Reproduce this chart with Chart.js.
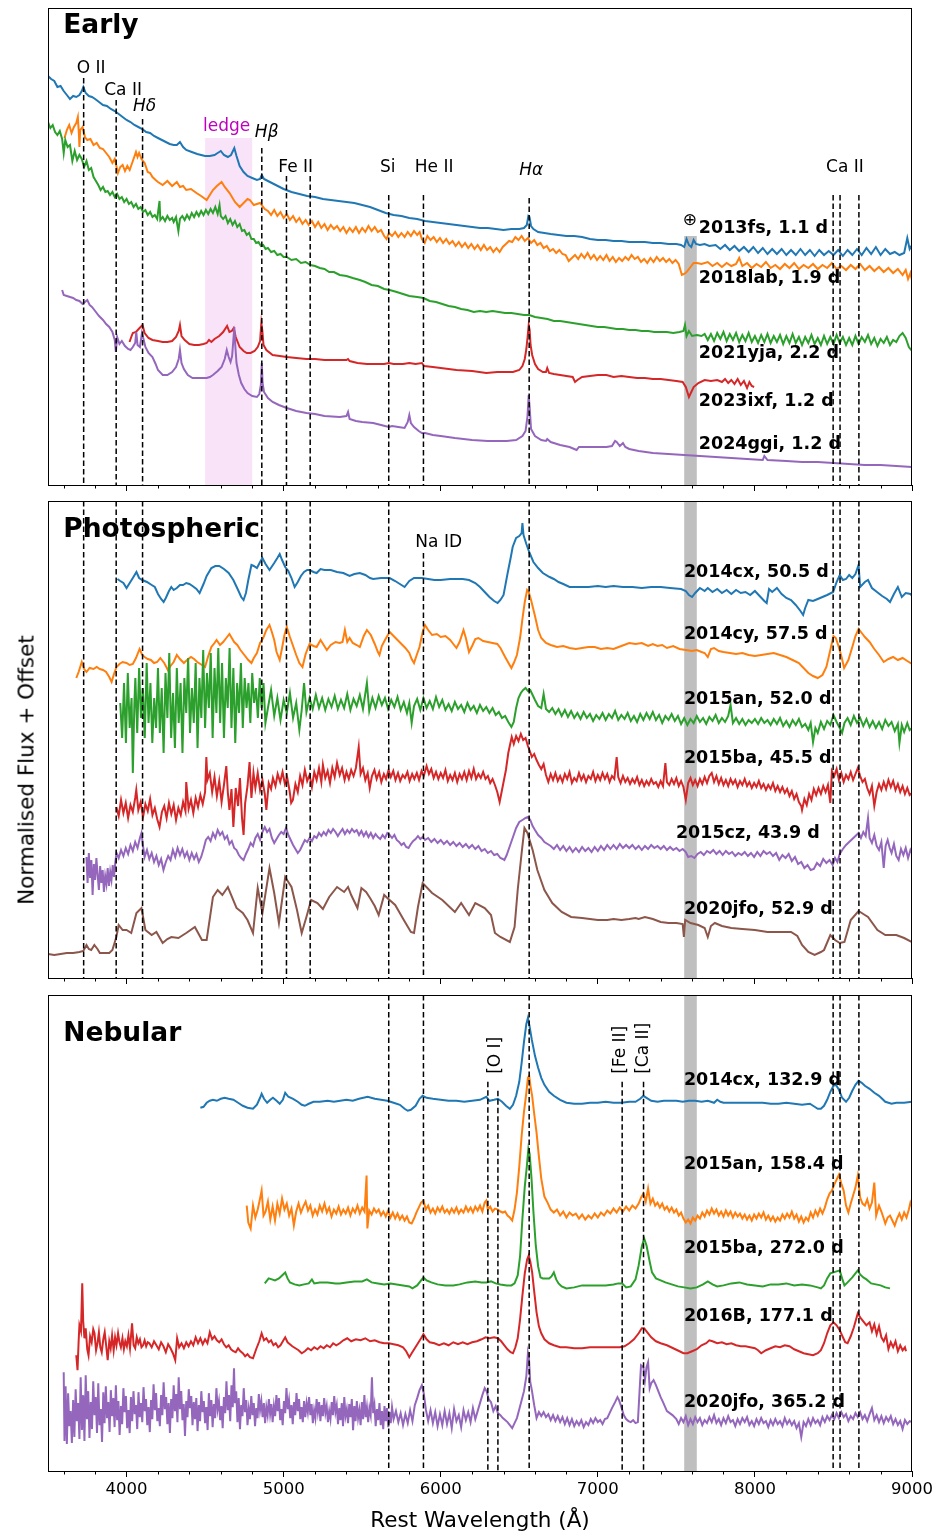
<!DOCTYPE html>
<html>
<head>
<meta charset="utf-8">
<script src="https://cdn.jsdelivr.net/npm/chart.js@4.4.1/dist/chart.umd.min.js"></script>
<style>
  body { margin: 0; background: #fff; }
  #fig { position: relative; width: 940px; height: 1535px; background: #fff; overflow: hidden; }
  #fig canvas { position: absolute; left: 0; }
  #ylab { position: absolute; left: 26px; top: 770px; transform: translate(-50%, -50%) rotate(-90deg);
          font: 21.5px "DejaVu Sans"; color: #000; white-space: nowrap; }
</style>
</head>
<body>
<div id="fig">
  <canvas id="early" width="940" height="500" style="top:0px"></canvas>
  <canvas id="photo" width="940" height="490" style="top:500px"></canvas>
  <canvas id="neb" width="940" height="545" style="top:990px"></canvas>
  <div id="ylab">Normalised Flux + Offset</div>
</div>
<script>
// ---------- axis ----------
const waveMin = 3500, waveMax = 9000;
const majorTicks = [4000, 5000, 6000, 7000, 8000, 9000];
const fluxMax = 47.7;

// ---------- Early spectra: [rest wavelength (Å), normalised flux + offset] ----------
const early2013fs = [[3500,40.9],[3520,40.6],[3540,40.4],[3560,39.8],[3580,39.9],[3600,39.4],[3620,39.0],[3640,38.6],[3660,38.9],[3680,38.8],[3700,39.0],[3715,39.4],[3725,39.8],[3740,39.2],[3760,38.9],[3780,38.8],[3800,38.6],[3825,38.3],[3850,38.0],[3875,37.9],[3900,37.6],[3925,37.4],[3950,37.1],[3975,36.8],[4000,36.5],[4025,36.3],[4050,36.0],[4075,35.8],[4100,35.6],[4125,35.3],[4150,35.2],[4175,34.9],[4200,34.7],[4225,34.5],[4250,34.3],[4275,34.1],[4300,34.0],[4320,34.0],[4340,34.3],[4360,33.8],[4380,33.5],[4415,33.3],[4450,33.1],[4475,33.0],[4500,32.9],[4530,32.9],[4560,33.0],[4580,33.2],[4600,33.4],[4620,33.0],[4645,32.8],[4665,33.0],[4686,33.7],[4700,32.9],[4720,31.9],[4745,31.3],[4770,30.9],[4800,30.7],[4830,30.5],[4850,30.6],[4861,31.0],[4875,30.6],[4900,30.4],[4950,30.0],[5000,29.6],[5050,29.3],[5100,29.1],[5150,28.9],[5200,28.8],[5250,28.6],[5300,28.5],[5350,28.4],[5400,28.3],[5450,28.2],[5500,28.0],[5550,27.8],[5600,27.5],[5650,27.2],[5700,27.0],[5750,26.9],[5800,26.7],[5850,26.6],[5900,26.4],[5950,26.3],[6000,26.2],[6050,26.1],[6100,26.0],[6150,25.9],[6200,25.8],[6250,25.7],[6300,25.7],[6350,25.6],[6400,25.5],[6450,25.6],[6500,25.6],[6530,25.7],[6548,26.0],[6558,26.9],[6565,26.8],[6575,25.9],[6590,25.6],[6620,25.3],[6660,25.2],[6700,25.1],[6750,25.0],[6800,24.9],[6850,24.9],[6900,24.8],[6950,24.6],[7000,24.5],[7050,24.5],[7100,24.4],[7150,24.4],[7200,24.3],[7250,24.3],[7300,24.3],[7350,24.2],[7400,24.2],[7450,24.1],[7500,24.1],[7530,24.0],[7550,23.8],[7565,24.6],[7580,24.0],[7595,23.8],[7610,24.5],[7625,24.1],[7650,24.0],[7680,24.1],[7710,23.9],[7750,24.0],[7780,23.6],[7810,24.0],[7840,23.5],[7870,23.9],[7900,23.4],[7930,23.8],[7960,23.3],[7990,23.8],[8020,23.2],[8050,23.7],[8080,23.1],[8110,23.6],[8140,23.1],[8170,23.6],[8200,23.0],[8230,23.5],[8260,23.0],[8290,23.6],[8320,23.0],[8350,23.5],[8380,22.9],[8410,23.5],[8440,23.0],[8470,23.4],[8500,23.0],[8530,23.5],[8560,22.9],[8590,23.5],[8620,23.0],[8650,23.6],[8680,23.0],[8710,23.7],[8740,23.1],[8770,23.8],[8800,23.0],[8830,23.6],[8860,23.1],[8890,23.3],[8920,23.0],[8950,23.2],[8970,24.7],[8985,23.6],[9000,24.0]];

const early2018lab = [[3605,34.7],[3620,35.5],[3635,36.0],[3650,35.2],[3665,35.8],[3680,36.2],[3690,36.8],[3697,35.0],[3700,33.8],[3705,35.5],[3720,35.8],[3735,34.8],[3750,34.5],[3770,34.6],[3790,34.0],[3810,34.2],[3830,33.7],[3850,33.6],[3870,33.2],[3890,32.8],[3910,32.2],[3925,32.6],[3945,31.2],[3960,31.8],[3975,32.0],[3990,31.4],[4005,31.9],[4020,31.5],[4040,32.4],[4060,33.3],[4070,32.8],[4080,33.2],[4095,32.6],[4115,32.2],[4135,31.3],[4150,31.2],[4165,30.8],[4185,30.5],[4200,30.3],[4230,30.0],[4260,30.4],[4290,29.9],[4320,30.3],[4340,29.8],[4360,29.9],[4380,29.5],[4410,29.6],[4445,29.2],[4475,28.9],[4510,28.5],[4530,29.0],[4550,29.5],[4575,29.9],[4605,30.3],[4625,29.8],[4656,29.2],[4690,28.3],[4720,27.8],[4745,28.2],[4770,28.6],[4785,28.5],[4810,28.0],[4850,28.2],[4880,27.6],[4900,27.4],[4920,27.0],[4940,27.5],[4960,26.9],[4980,27.3],[5000,26.7],[5020,27.1],[5040,26.5],[5060,26.9],[5080,26.3],[5100,26.7],[5120,26.1],[5140,26.5],[5160,26.0],[5180,26.4],[5200,25.8],[5220,26.3],[5240,25.7],[5260,26.1],[5280,25.5],[5300,26.0],[5320,25.6],[5340,25.9],[5360,25.4],[5380,25.8],[5400,25.2],[5420,25.7],[5440,25.3],[5460,25.8],[5480,25.2],[5500,25.7],[5520,25.3],[5540,25.9],[5560,25.4],[5580,25.8],[5600,25.3],[5620,25.5],[5640,24.9],[5655,24.6],[5670,25.2],[5690,24.9],[5710,25.3],[5730,24.8],[5750,25.2],[5770,24.8],[5790,25.3],[5810,24.9],[5830,25.4],[5850,25.0],[5866,25.3],[5880,24.6],[5898,24.2],[5915,24.9],[5935,24.5],[5955,24.8],[5975,24.3],[5995,24.7],[6015,24.2],[6035,24.6],[6055,24.1],[6075,24.4],[6095,23.9],[6115,24.3],[6135,23.8],[6155,24.2],[6175,23.7],[6195,24.1],[6215,23.6],[6235,24.0],[6255,23.5],[6275,24.0],[6295,23.5],[6315,23.8],[6335,23.3],[6355,23.7],[6375,23.3],[6395,23.8],[6415,24.1],[6435,24.4],[6455,24.3],[6475,24.8],[6495,24.5],[6515,24.9],[6535,24.4],[6555,24.7],[6575,24.2],[6595,24.5],[6615,24.0],[6635,24.2],[6655,23.7],[6675,23.9],[6695,23.4],[6715,23.6],[6735,23.2],[6755,23.5],[6775,23.1],[6795,23.0],[6815,22.4],[6835,22.7],[6855,23.0],[6875,22.6],[6895,23.1],[6915,22.7],[6935,23.2],[6955,22.6],[6975,23.0],[6995,22.5],[7015,22.9],[7035,22.5],[7055,23.0],[7075,22.4],[7095,22.8],[7115,22.3],[7135,22.7],[7155,22.4],[7175,22.8],[7195,22.5],[7215,23.0],[7235,22.6],[7255,22.8],[7275,22.3],[7295,22.6],[7315,22.2],[7335,22.7],[7355,22.3],[7375,22.8],[7395,22.4],[7415,22.7],[7435,22.3],[7455,22.6],[7475,22.2],[7495,22.5],[7515,22.1],[7535,21.0],[7550,21.1],[7565,21.3],[7590,21.8],[7610,22.2],[7630,22.2],[7660,22.1],[7700,22.3],[7730,21.9],[7760,22.2],[7790,21.8],[7820,22.2],[7850,21.9],[7880,22.1],[7900,22.7],[7920,21.9],[7950,22.2],[7980,21.7],[8010,22.1],[8040,21.8],[8070,22.3],[8100,21.7],[8130,22.0],[8160,21.6],[8190,22.1],[8220,21.7],[8250,22.2],[8280,21.6],[8310,22.0],[8340,21.7],[8370,22.1],[8400,21.6],[8430,22.0],[8460,21.7],[8490,22.2],[8520,21.6],[8550,21.9],[8580,21.5],[8610,22.0],[8640,21.6],[8670,22.1],[8700,21.5],[8730,21.9],[8760,21.4],[8790,21.8],[8820,21.3],[8850,21.7],[8880,21.2],[8910,21.6],[8940,21.0],[8960,21.5],[8975,20.6],[8990,21.2],[9000,20.5]];

const early2021yja = [[3500,36.3],[3515,35.7],[3530,36.0],[3545,35.3],[3560,35.0],[3575,35.4],[3590,34.6],[3600,33.2],[3610,34.5],[3625,33.8],[3640,34.0],[3655,32.4],[3670,33.4],[3685,32.5],[3700,33.0],[3715,32.6],[3730,31.8],[3745,32.4],[3760,31.5],[3775,31.7],[3790,30.8],[3805,30.4],[3820,30.0],[3835,29.5],[3850,29.8],[3865,29.3],[3880,29.4],[3895,29.0],[3910,29.3],[3925,28.8],[3940,29.1],[3955,28.6],[3970,28.8],[3985,28.3],[4000,28.6],[4015,28.1],[4030,28.3],[4045,27.8],[4060,28.1],[4075,27.6],[4090,27.8],[4105,27.3],[4120,27.5],[4135,27.0],[4150,27.3],[4165,26.8],[4180,27.0],[4195,26.6],[4210,28.4],[4215,26.5],[4230,26.8],[4245,26.4],[4260,26.9],[4275,26.5],[4290,26.7],[4300,26.3],[4315,26.8],[4330,25.4],[4340,26.6],[4355,26.9],[4370,26.5],[4385,27.0],[4400,26.6],[4415,27.2],[4430,26.8],[4445,27.3],[4460,26.9],[4475,27.4],[4490,27.0],[4505,27.5],[4520,27.1],[4535,27.6],[4550,27.2],[4565,27.8],[4580,27.1],[4592,28.0],[4600,26.9],[4615,26.6],[4630,26.9],[4645,26.2],[4660,26.6],[4675,26.0],[4690,26.4],[4705,25.8],[4720,26.1],[4735,25.4],[4750,25.5],[4765,25.0],[4780,25.2],[4795,24.6],[4810,24.6],[4825,24.2],[4840,24.3],[4855,23.9],[4870,24.0],[4885,23.6],[4900,23.7],[4920,23.3],[4940,23.4],[4960,23.0],[4980,23.1],[5000,22.8],[5020,22.8],[5050,22.5],[5080,22.6],[5110,22.2],[5140,22.3],[5170,22.0],[5200,21.9],[5230,21.7],[5260,21.6],[5290,21.3],[5320,21.3],[5357,21.0],[5400,20.9],[5440,20.7],[5485,20.5],[5520,20.3],[5560,20.0],[5600,19.9],[5640,19.6],[5675,19.5],[5720,19.3],[5760,19.1],[5800,18.9],[5850,18.8],[5890,18.7],[5930,18.4],[5970,18.3],[6010,18.1],[6050,17.9],[6090,17.8],[6130,17.6],[6170,17.5],[6210,17.3],[6250,17.4],[6290,17.3],[6330,17.4],[6370,17.3],[6410,17.2],[6450,17.2],[6490,17.1],[6530,17.0],[6563,17.0],[6600,16.8],[6640,16.7],[6680,16.6],[6720,16.4],[6760,16.4],[6800,16.3],[6840,16.2],[6880,16.1],[6920,16.0],[6960,15.9],[7000,15.8],[7040,15.8],[7080,15.7],[7120,15.6],[7160,15.6],[7200,15.5],[7240,15.5],[7280,15.4],[7320,15.4],[7360,15.3],[7400,15.3],[7440,15.3],[7480,15.2],[7520,15.3],[7545,15.4],[7555,16.0],[7565,14.9],[7580,15.4],[7600,14.9],[7630,15.0],[7660,14.9],[7680,15.1],[7700,14.5],[7720,15.1],[7740,14.4],[7760,15.2],[7780,14.6],[7800,15.3],[7820,14.4],[7840,15.1],[7860,14.5],[7880,15.2],[7900,14.3],[7920,15.0],[7940,14.4],[7960,15.2],[7980,14.3],[8000,14.9],[8020,14.2],[8040,15.0],[8060,14.3],[8080,15.1],[8100,14.2],[8120,14.9],[8140,14.3],[8160,15.0],[8180,14.1],[8200,14.9],[8220,14.2],[8240,15.1],[8260,14.2],[8280,14.8],[8300,14.0],[8320,14.8],[8340,14.2],[8360,15.0],[8380,14.1],[8400,14.7],[8420,14.0],[8440,14.9],[8460,14.1],[8480,14.8],[8500,14.1],[8520,15.0],[8540,14.2],[8560,14.8],[8580,14.0],[8600,14.7],[8620,14.0],[8640,14.9],[8660,14.1],[8680,14.8],[8700,14.3],[8720,15.0],[8740,14.1],[8760,14.7],[8780,13.9],[8800,14.6],[8820,14.2],[8840,14.8],[8860,14.0],[8880,14.5],[8900,14.3],[8920,14.9],[8940,15.2],[8960,14.7],[8980,13.8],[9000,13.4]];

const early2023ixf = [[4019,14.3],[4030,14.8],[4040,15.2],[4060,15.3],[4083,15.7],[4102,16.0],[4115,15.2],[4140,14.7],[4165,14.5],[4200,14.4],[4230,14.3],[4260,14.3],[4290,14.4],[4315,14.8],[4332,15.4],[4340,16.0],[4350,14.9],[4370,14.5],[4400,14.1],[4430,14.0],[4460,14.0],[4490,14.1],[4510,14.2],[4525,14.5],[4540,14.3],[4560,14.6],[4590,14.9],[4615,15.3],[4640,15.9],[4655,15.3],[4670,15.4],[4682,15.7],[4695,14.8],[4720,13.8],[4745,13.4],[4765,13.2],[4790,13.2],[4815,13.4],[4835,13.8],[4850,14.4],[4858,16.2],[4864,15.5],[4872,14.0],[4890,13.5],[4930,13.0],[4975,12.9],[5020,12.8],[5080,12.7],[5145,12.6],[5200,12.6],[5260,12.5],[5357,12.5],[5400,12.5],[5410,12.6],[5420,12.4],[5470,12.2],[5530,12.1],[5580,12.1],[5640,12.1],[5670,12.2],[5700,12.1],[5760,12.1],[5800,12.2],[5840,12.1],[5880,12.2],[5895,11.9],[5950,11.8],[6000,11.7],[6100,11.5],[6200,11.4],[6290,11.2],[6360,11.3],[6420,11.3],[6460,11.3],[6500,11.5],[6520,11.9],[6535,12.6],[6545,13.6],[6553,14.8],[6560,16.0],[6566,15.5],[6572,14.0],[6582,13.0],[6600,12.1],[6620,11.6],[6650,11.3],[6670,11.3],[6678,11.7],[6690,11.2],[6720,11.1],[6760,11.0],[6800,10.9],[6840,10.8],[6855,10.3],[6870,10.5],[6900,10.8],[6950,10.9],[7000,11.0],[7055,11.0],[7100,10.8],[7150,10.9],[7200,10.8],[7250,10.7],[7300,10.7],[7350,10.6],[7400,10.6],[7450,10.5],[7500,10.4],[7540,10.3],[7560,9.8],[7580,8.8],[7595,9.3],[7610,9.8],[7640,10.2],[7680,10.5],[7720,10.4],[7760,10.5],[7790,10.3],[7810,10.6],[7830,10.2],[7850,10.5],[7870,10.1],[7890,10.6],[7910,10.0],[7930,10.4],[7950,9.7],[7965,10.3],[7980,9.9],[7995,9.8]];

const early2024ggi = [[3590,19.5],[3600,19.0],[3620,18.9],[3640,18.8],[3660,18.7],[3680,18.5],[3700,18.4],[3720,18.1],[3735,18.3],[3750,18.5],[3765,18.0],[3780,17.8],[3800,17.4],[3825,16.9],[3850,16.5],[3870,16.1],[3890,15.8],[3910,15.3],[3925,14.5],[3932,13.3],[3940,14.8],[3955,14.1],[3970,14.4],[3990,13.9],[4010,13.6],[4025,13.5],[4040,13.8],[4055,14.2],[4062,15.3],[4070,14.0],[4085,13.8],[4098,15.2],[4108,14.6],[4120,13.8],[4140,13.2],[4165,12.8],[4185,12.1],[4200,11.5],[4230,11.0],[4260,11.0],[4290,11.3],[4315,11.8],[4332,12.6],[4340,13.5],[4350,12.2],[4365,11.6],[4390,11.0],[4420,10.7],[4450,10.7],[4480,10.7],[4510,10.7],[4530,10.8],[4550,11.0],[4580,11.4],[4605,11.8],[4625,12.6],[4638,13.5],[4650,12.8],[4662,12.3],[4672,12.9],[4680,14.5],[4686,15.8],[4692,14.0],[4700,12.2],[4715,11.0],[4730,10.2],[4750,9.6],[4770,9.2],[4800,8.9],[4830,8.8],[4845,9.1],[4855,10.0],[4861,12.2],[4866,10.2],[4875,9.3],[4900,8.7],[4930,8.3],[4970,8.0],[5020,7.7],[5080,7.4],[5145,7.2],[5200,7.1],[5260,6.9],[5357,6.8],[5400,6.9],[5410,7.3],[5420,6.6],[5460,6.4],[5500,6.3],[5570,6.2],[5620,6.0],[5670,5.8],[5690,5.9],[5730,5.8],[5770,5.7],[5790,6.3],[5800,7.0],[5810,6.2],[5830,5.8],[5860,5.4],[5880,5.2],[5900,5.2],[5950,5.0],[6000,4.9],[6090,4.7],[6200,4.5],[6300,4.4],[6420,4.4],[6480,4.5],[6520,4.9],[6540,5.4],[6552,6.8],[6560,9.0],[6566,7.8],[6575,5.6],[6600,4.9],[6640,4.5],[6670,4.4],[6678,4.6],[6700,4.3],[6760,4.0],[6820,3.8],[6850,3.6],[6865,3.5],[6880,3.8],[6950,3.8],[7000,3.8],[7055,3.8],[7090,3.9],[7110,4.4],[7120,4.3],[7140,3.9],[7160,4.2],[7175,3.8],[7200,3.6],[7260,3.4],[7350,3.2],[7450,3.1],[7550,3.0],[7650,2.9],[7750,2.8],[7850,2.7],[7950,2.6],[8050,2.5],[8060,2.9],[8080,2.5],[8200,2.4],[8300,2.3],[8400,2.3],[8500,2.2],[8600,2.1],[8700,2.0],[8800,2.0],[8900,1.9],[9000,1.8]];

// ---------- Photospheric spectra ----------
const photo2014cx = [[3942,39.9],[3960,39.7],[3980,39.5],[4000,39.0],[4020,39.5],[4040,40.0],[4063,40.6],[4080,40.0],[4100,39.8],[4130,39.6],[4160,39.3],[4180,39.1],[4200,38.4],[4220,37.9],[4236,37.6],[4250,38.0],[4270,38.7],[4285,39.1],[4300,38.8],[4320,39.0],[4340,39.3],[4360,39.3],[4380,39.5],[4400,39.4],[4420,39.2],[4445,38.9],[4465,38.5],[4490,39.4],[4510,40.2],[4540,41.0],[4565,41.2],[4590,41.2],[4620,40.9],[4650,40.5],[4680,39.8],[4710,38.8],[4730,38.1],[4745,37.8],[4760,38.5],[4775,39.8],[4795,41.3],[4810,41.2],[4830,41.0],[4850,41.6],[4865,42.0],[4885,41.4],[4910,40.8],[4940,41.5],[4960,42.0],[4975,42.4],[4990,41.8],[5010,41.1],[5030,40.7],[5050,40.0],[5070,39.1],[5090,39.6],[5110,40.2],[5130,40.6],[5150,40.8],[5165,40.8],[5190,40.6],[5210,40.5],[5235,40.9],[5260,40.8],[5300,40.8],[5340,40.6],[5380,40.5],[5420,40.2],[5450,40.4],[5485,40.5],[5520,40.3],[5550,40.0],[5570,39.9],[5620,40.0],[5675,40.0],[5710,39.7],[5740,39.4],[5770,39.1],[5800,39.7],[5830,40.0],[5880,40.0],[5920,39.9],[5960,39.8],[6000,39.8],[6060,39.9],[6100,39.9],[6140,39.9],[6180,39.8],[6220,39.5],[6250,39.1],[6280,38.6],[6310,38.1],[6340,37.7],[6362,37.5],[6380,37.8],[6400,38.3],[6426,40.5],[6445,42.0],[6458,43.1],[6480,44.0],[6500,44.2],[6515,44.5],[6520,45.5],[6527,44.3],[6545,43.4],[6563,42.6],[6590,41.6],[6620,41.0],[6650,40.5],[6693,40.1],[6720,39.9],[6750,39.6],[6780,39.4],[6820,39.1],[6870,39.1],[6940,39.1],[7000,39.2],[7050,39.1],[7100,39.2],[7160,39.1],[7220,39.1],[7280,39.0],[7340,39.1],[7400,39.1],[7460,39.0],[7530,38.9],[7560,38.7],[7580,38.3],[7600,38.1],[7620,38.5],[7650,39.0],[7680,38.7],[7700,39.0],[7730,38.6],[7760,38.9],[7790,38.5],[7820,38.8],[7850,38.4],[7880,38.8],[7910,38.5],[7940,38.6],[7970,38.3],[8000,38.7],[8030,38.2],[8060,37.7],[8075,37.5],[8090,38.9],[8110,38.6],[8140,39.0],[8170,38.4],[8200,38.0],[8230,37.8],[8260,37.3],[8290,36.7],[8307,36.3],[8320,37.0],[8340,37.8],[8370,37.7],[8400,37.9],[8430,38.1],[8460,38.3],[8498,38.6],[8520,39.6],[8540,40.3],[8560,39.8],[8580,39.9],[8600,40.3],[8620,40.0],[8640,40.4],[8660,41.3],[8670,39.1],[8700,39.6],[8720,39.8],[8745,39.0],[8777,38.6],[8810,38.2],[8840,37.9],[8860,37.6],[8885,38.4],[8910,39.1],[8935,38.1],[8960,38.5],[8990,38.4],[9000,38.2]];

const photo2014cy = [[3680,30.0],[3695,30.6],[3715,31.6],[3730,30.9],[3745,30.6],[3765,31.0],[3790,30.9],[3810,31.1],[3830,30.9],[3850,30.8],[3870,30.6],[3890,30.1],[3905,29.6],[3920,30.4],[3936,31.1],[3955,31.4],[3975,31.6],[4000,31.5],[4020,31.3],[4040,31.4],[4060,32.0],[4083,32.9],[4100,32.3],[4115,32.1],[4135,31.9],[4155,31.8],[4175,31.5],[4195,31.6],[4215,32.0],[4240,31.5],[4263,30.8],[4280,31.2],[4300,31.6],[4320,32.3],[4340,31.9],[4365,31.5],[4385,31.8],[4410,32.1],[4430,31.9],[4450,31.6],[4480,31.3],[4500,31.1],[4520,32.2],[4540,33.1],[4560,33.5],[4573,33.8],[4595,33.3],[4615,33.6],[4635,34.0],[4655,34.4],[4670,34.0],[4685,33.6],[4705,33.3],[4725,32.8],[4750,32.3],[4775,31.8],[4795,31.5],[4810,32.0],[4830,32.5],[4850,33.5],[4870,34.0],[4890,34.8],[4910,35.3],[4925,34.6],[4940,33.8],[4955,32.6],[4975,31.8],[4990,33.0],[5005,34.3],[5020,35.1],[5040,34.1],[5060,33.2],[5080,32.3],[5100,31.5],[5120,31.1],[5140,32.4],[5165,33.4],[5190,33.2],[5210,33.1],[5235,33.8],[5255,33.3],[5275,32.8],[5300,33.3],[5330,33.6],[5357,33.5],[5375,33.6],[5390,34.8],[5405,33.6],[5420,34.0],[5440,33.5],[5465,33.3],[5485,33.1],[5510,34.2],[5530,34.8],[5555,34.3],[5580,33.4],[5600,32.6],[5610,32.3],[5625,33.2],[5645,33.8],[5675,34.6],[5700,34.2],[5725,33.8],[5750,33.4],[5775,33.0],[5800,32.5],[5815,31.9],[5830,31.5],[5845,32.2],[5865,33.1],[5885,34.6],[5900,35.3],[5920,34.8],[5945,34.3],[5975,34.4],[6000,34.1],[6030,34.2],[6060,33.8],[6080,33.4],[6100,33.0],[6120,33.6],[6145,34.8],[6160,34.0],[6180,32.6],[6200,33.2],[6220,33.9],[6240,34.0],[6270,33.7],[6300,33.6],[6330,33.5],[6360,33.4],[6380,33.0],[6410,32.1],[6435,31.4],[6450,31.0],[6465,31.5],[6485,32.3],[6505,34.0],[6520,35.9],[6535,37.6],[6550,38.8],[6560,38.6],[6575,37.8],[6600,36.2],[6620,34.8],[6640,34.0],[6670,33.5],[6700,33.3],[6740,33.1],[6780,33.2],[6820,33.0],[6860,32.9],[6900,33.0],[6940,33.1],[6980,33.1],[7020,32.9],[7060,33.0],[7100,32.9],[7150,33.2],[7200,33.5],[7240,33.4],[7280,33.5],[7320,33.2],[7350,33.4],[7380,33.2],[7410,33.3],[7440,33.0],[7480,33.2],[7520,32.9],[7560,32.8],[7600,32.7],[7630,32.8],[7660,32.6],[7680,32.5],[7700,32.1],[7720,32.9],[7740,33.0],[7770,32.7],[7800,32.6],[7840,32.5],[7880,32.4],[7920,32.5],[7960,32.3],[8000,32.2],[8040,32.3],[8080,32.4],[8120,32.5],[8160,32.3],[8200,32.1],[8240,31.8],[8280,31.5],[8310,31.0],[8340,30.5],[8370,30.2],[8400,30.0],[8430,30.3],[8455,31.1],[8480,32.8],[8500,34.2],[8515,34.0],[8530,33.3],[8550,32.2],[8568,31.0],[8595,31.8],[8620,33.1],[8640,34.2],[8660,34.9],[8680,34.5],[8700,34.1],[8730,33.6],[8760,32.9],[8790,32.3],[8820,31.6],[8850,31.9],[8880,32.1],[8910,31.8],[8940,32.0],[8970,31.7],[9000,31.4]];

const photo2015an = [[3960,27.5],[3972,24.0],[3984,29.5],[3996,23.5],[4008,30.5],[4020,25.0],[4032,28.0],[4040,20.5],[4050,27.5],[4056,30.0],[4068,24.5],[4080,31.0],[4092,26.0],[4104,29.0],[4116,24.0],[4128,31.5],[4140,25.5],[4152,29.5],[4164,23.5],[4176,28.0],[4188,25.0],[4200,31.0],[4212,24.5],[4224,29.0],[4236,22.5],[4248,30.5],[4260,26.0],[4272,32.5],[4284,24.0],[4296,28.5],[4308,23.0],[4320,31.0],[4332,25.5],[4344,29.5],[4356,22.5],[4368,30.0],[4380,26.5],[4392,32.0],[4404,24.5],[4416,29.0],[4428,25.5],[4440,31.5],[4452,23.0],[4464,30.0],[4476,26.0],[4488,32.8],[4500,25.0],[4512,30.5],[4524,27.0],[4536,32.5],[4548,24.0],[4560,31.0],[4572,26.5],[4584,33.0],[4596,25.5],[4608,31.5],[4620,24.0],[4632,30.0],[4644,27.0],[4656,33.0],[4668,25.0],[4680,31.0],[4692,23.5],[4704,29.5],[4716,26.5],[4728,31.5],[4740,25.0],[4752,30.0],[4764,27.0],[4776,29.5],[4788,25.5],[4800,30.5],[4812,27.5],[4824,29.0],[4836,26.0],[4848,30.0],[4860,27.0],[4872,29.5],[4884,25.5],[4900,27.0],[4920,28.8],[4940,26.2],[4960,28.0],[4980,25.8],[5000,27.8],[5020,26.5],[5040,28.5],[5060,26.0],[5080,27.5],[5100,24.8],[5115,26.8],[5130,29.5],[5145,26.6],[5165,28.0],[5185,26.9],[5205,28.3],[5225,27.0],[5245,28.0],[5265,26.8],[5285,27.9],[5305,27.1],[5325,28.2],[5345,26.9],[5365,27.8],[5385,27.0],[5405,28.4],[5425,26.8],[5445,27.9],[5465,27.2],[5485,28.3],[5505,26.9],[5530,29.5],[5545,26.7],[5565,28.0],[5585,27.0],[5605,28.2],[5625,27.3],[5645,28.0],[5665,26.9],[5685,27.8],[5705,27.1],[5725,28.1],[5745,26.8],[5765,27.6],[5785,26.5],[5800,27.5],[5815,25.5],[5830,27.2],[5850,27.9],[5870,26.8],[5890,28.0],[5910,27.0],[5930,27.7],[5950,26.9],[5970,28.1],[5990,27.1],[6010,27.8],[6030,26.8],[6050,27.4],[6070,26.7],[6090,27.6],[6110,26.9],[6130,27.3],[6150,26.6],[6170,27.5],[6190,26.8],[6210,27.2],[6230,26.5],[6250,27.3],[6270,26.7],[6290,27.1],[6310,26.5],[6330,27.0],[6350,26.3],[6370,26.6],[6390,26.0],[6410,26.2],[6430,25.6],[6450,25.1],[6465,25.6],[6480,27.0],[6495,28.0],[6510,28.5],[6525,28.8],[6540,29.0],[6555,28.7],[6570,28.8],[6585,28.3],[6600,27.8],[6620,27.2],[6640,27.0],[6655,28.4],[6670,26.9],[6690,26.6],[6710,27.0],[6730,26.4],[6750,26.9],[6770,26.2],[6790,26.8],[6810,26.1],[6830,26.7],[6850,26.0],[6870,26.5],[6890,25.9],[6910,26.6],[6930,26.0],[6950,26.4],[6970,25.7],[6990,26.3],[7010,25.9],[7030,26.5],[7050,25.8],[7070,26.4],[7090,26.0],[7110,26.7],[7130,25.8],[7150,26.3],[7170,25.9],[7190,26.5],[7210,25.7],[7230,26.2],[7250,25.6],[7270,26.4],[7290,25.8],[7310,26.5],[7330,25.9],[7350,26.6],[7370,25.8],[7390,26.3],[7410,25.5],[7430,26.2],[7450,25.8],[7470,26.4],[7490,25.7],[7510,26.2],[7530,25.4],[7550,26.0],[7570,25.3],[7590,25.9],[7610,25.5],[7630,26.2],[7650,25.6],[7670,26.0],[7690,25.4],[7710,26.1],[7730,25.7],[7750,26.3],[7770,25.5],[7790,26.0],[7810,25.6],[7830,26.2],[7845,27.3],[7860,25.5],[7880,26.0],[7900,25.4],[7920,25.9],[7940,25.3],[7960,25.8],[7980,25.5],[8000,25.9],[8020,25.4],[8040,26.0],[8060,25.5],[8080,25.8],[8100,25.3],[8120,25.9],[8140,25.4],[8160,26.0],[8180,25.2],[8200,25.7],[8220,25.1],[8240,25.8],[8260,25.3],[8280,25.9],[8300,25.1],[8320,25.4],[8340,24.8],[8355,25.5],[8370,23.6],[8385,25.0],[8400,24.5],[8420,25.6],[8440,24.9],[8460,25.7],[8480,25.3],[8500,26.3],[8520,25.6],[8540,25.0],[8555,24.5],[8570,25.5],[8590,26.0],[8610,25.3],[8630,26.2],[8650,25.5],[8670,26.0],[8690,25.2],[8710,25.9],[8730,25.1],[8750,25.7],[8770,25.0],[8790,25.6],[8810,24.9],[8830,25.8],[8850,25.2],[8870,25.6],[8890,24.7],[8910,25.4],[8920,23.5],[8935,25.3],[8950,24.6],[8970,25.5],[8985,24.8],[9000,25.0]];

const photo2015ba = [[3935,17.1],[3950,16.2],[3965,17.8],[3980,16.5],[3995,17.5],[4010,16.0],[4025,17.3],[4040,16.6],[4055,18.0],[4062,18.8],[4075,16.8],[4090,17.6],[4105,16.1],[4120,17.4],[4135,16.7],[4150,17.9],[4165,16.3],[4180,17.0],[4195,15.9],[4210,15.1],[4225,16.6],[4240,17.2],[4255,16.0],[4270,17.5],[4285,16.4],[4300,17.3],[4315,15.8],[4330,17.0],[4345,16.3],[4360,17.6],[4375,16.7],[4380,19.6],[4395,16.9],[4410,17.8],[4425,16.5],[4440,18.0],[4455,17.1],[4470,18.3],[4485,17.4],[4500,18.6],[4508,22.1],[4515,19.8],[4530,20.5],[4545,18.6],[4560,20.1],[4575,18.2],[4590,19.7],[4605,17.6],[4620,19.3],[4635,21.2],[4645,18.5],[4655,16.8],[4668,18.9],[4680,15.1],[4695,19.0],[4710,17.2],[4722,20.0],[4735,16.0],[4745,14.3],[4755,17.5],[4770,19.2],[4783,21.6],[4795,18.0],[4808,20.5],[4820,19.0],[4835,20.5],[4850,18.8],[4865,19.8],[4880,18.4],[4890,16.8],[4905,19.5],[4920,18.9],[4932,20.0],[4948,19.2],[4962,20.4],[4978,19.6],[4993,20.6],[5008,19.4],[5022,20.1],[5038,18.7],[5048,17.5],[5059,17.8],[5075,19.4],[5090,18.6],[5105,20.2],[5120,19.3],[5135,20.8],[5150,19.7],[5165,20.3],[5180,19.1],[5195,20.6],[5210,19.8],[5225,21.0],[5240,19.6],[5250,21.3],[5265,20.0],[5280,20.7],[5295,19.5],[5310,21.0],[5325,20.1],[5340,21.5],[5357,20.3],[5372,21.0],[5388,19.8],[5400,20.6],[5415,19.9],[5430,20.8],[5445,20.2],[5460,21.0],[5478,23.1],[5490,20.4],[5505,21.0],[5520,19.8],[5535,20.5],[5548,19.0],[5562,20.2],[5578,20.8],[5592,19.9],[5608,20.6],[5622,19.6],[5638,20.4],[5652,19.9],[5668,20.8],[5682,20.1],[5698,20.7],[5712,19.8],[5728,20.5],[5742,19.7],[5758,20.3],[5772,20.0],[5788,20.6],[5802,19.7],[5818,20.4],[5832,19.9],[5848,20.5],[5862,19.8],[5878,20.7],[5892,20.2],[5910,21.2],[5925,20.4],[5940,20.9],[5955,20.0],[5970,20.6],[5985,19.9],[6000,20.5],[6015,20.0],[6030,20.8],[6045,19.7],[6060,20.3],[6075,19.8],[6090,20.5],[6105,19.6],[6120,20.4],[6135,19.9],[6150,20.6],[6165,19.8],[6180,20.7],[6195,20.0],[6210,20.9],[6225,19.9],[6240,20.4],[6255,20.0],[6270,20.6],[6285,19.9],[6300,20.2],[6315,19.5],[6330,19.9],[6345,19.3],[6360,18.6],[6375,17.6],[6385,18.4],[6400,19.6],[6415,20.8],[6430,22.5],[6445,23.6],[6452,24.1],[6465,23.4],[6480,24.2],[6495,23.7],[6510,24.4],[6525,23.8],[6540,24.0],[6555,23.2],[6567,22.7],[6580,22.1],[6595,22.4],[6610,21.8],[6625,21.3],[6640,20.9],[6655,21.4],[6670,20.3],[6685,19.6],[6700,20.4],[6715,19.8],[6730,20.5],[6745,19.7],[6760,20.2],[6775,19.6],[6790,20.4],[6805,19.9],[6820,20.6],[6835,19.5],[6850,20.0],[6865,19.7],[6880,20.5],[6895,19.8],[6910,20.3],[6925,19.6],[6940,20.2],[6955,19.9],[6970,20.6],[6985,19.7],[7000,20.3],[7015,19.8],[7030,20.5],[7045,19.9],[7060,20.4],[7075,19.6],[7090,20.2],[7105,19.9],[7120,22.1],[7130,20.1],[7145,19.5],[7160,20.2],[7175,19.6],[7190,20.0],[7205,19.4],[7220,19.9],[7235,19.5],[7250,20.1],[7265,19.3],[7280,19.8],[7295,19.2],[7310,19.7],[7325,19.3],[7340,19.9],[7355,19.4],[7370,19.6],[7385,19.1],[7400,19.7],[7415,19.2],[7430,21.5],[7440,19.6],[7455,19.3],[7470,19.9],[7485,19.4],[7500,20.0],[7515,19.2],[7530,19.7],[7545,19.1],[7560,17.8],[7575,19.5],[7590,20.0],[7605,19.3],[7620,19.8],[7635,19.2],[7650,19.9],[7665,19.4],[7680,20.1],[7695,19.5],[7710,20.2],[7725,20.5],[7740,19.6],[7755,20.2],[7770,19.4],[7785,20.0],[7800,19.3],[7815,19.8],[7830,19.2],[7845,19.9],[7860,19.4],[7875,19.8],[7890,19.1],[7905,19.7],[7920,19.3],[7935,19.9],[7950,19.2],[7965,19.6],[7980,19.0],[7995,19.5],[8010,19.1],[8025,19.7],[8040,19.0],[8055,19.4],[8070,18.8],[8085,19.3],[8100,18.9],[8115,19.5],[8130,18.7],[8145,19.2],[8160,18.6],[8175,19.1],[8190,18.5],[8205,18.9],[8220,18.2],[8235,18.7],[8250,17.9],[8265,18.4],[8280,17.6],[8295,17.2],[8300,16.8],[8315,17.9],[8330,17.3],[8345,18.4],[8360,17.8],[8375,18.9],[8390,18.3],[8405,19.0],[8420,18.4],[8435,19.2],[8450,18.6],[8465,19.3],[8480,17.5],[8490,20.7],[8505,20.2],[8520,20.9],[8535,19.8],[8550,20.5],[8565,19.6],[8580,20.3],[8595,19.9],[8610,20.6],[8625,19.8],[8640,20.4],[8655,21.0],[8670,20.2],[8685,19.6],[8700,19.9],[8715,19.0],[8730,18.4],[8745,19.2],[8760,17.2],[8775,18.6],[8790,19.4],[8805,18.8],[8820,19.6],[8835,18.9],[8850,19.8],[8865,19.1],[8880,19.7],[8895,18.8],[8910,19.4],[8925,18.6],[8940,19.2],[8955,18.4],[8970,19.0],[8985,18.3],[9000,18.5]];

const photo2015cz = [[3745,12.1],[3752,9.5],[3760,12.5],[3768,10.0],[3776,11.8],[3784,8.3],[3792,11.4],[3800,9.8],[3808,12.0],[3816,10.3],[3824,8.8],[3832,11.2],[3840,9.5],[3848,10.8],[3856,8.6],[3864,10.2],[3872,9.4],[3880,11.0],[3888,9.2],[3896,10.6],[3904,9.8],[3912,11.3],[3920,10.1],[3928,11.5],[3936,12.5],[3950,12.0],[3965,12.8],[3980,12.2],[3995,13.0],[4010,12.4],[4025,13.3],[4040,12.7],[4055,13.6],[4070,13.0],[4085,14.0],[4095,14.5],[4105,13.2],[4115,12.1],[4130,12.8],[4145,11.9],[4160,12.5],[4175,11.6],[4190,12.2],[4205,11.3],[4220,11.9],[4235,10.8],[4250,11.6],[4265,12.2],[4280,11.8],[4295,12.8],[4310,12.1],[4325,13.0],[4340,12.3],[4355,12.9],[4370,12.1],[4385,12.6],[4400,11.8],[4415,12.5],[4430,11.9],[4445,12.4],[4460,11.6],[4475,12.1],[4490,12.9],[4505,13.8],[4520,14.1],[4535,13.7],[4550,14.5],[4565,14.0],[4580,14.8],[4595,14.3],[4610,14.6],[4625,13.9],[4640,14.2],[4655,13.4],[4670,13.7],[4685,13.0],[4700,12.8],[4715,12.3],[4730,12.0],[4745,11.8],[4760,12.4],[4775,12.9],[4790,13.5],[4805,13.2],[4820,14.0],[4835,14.4],[4850,13.8],[4865,14.6],[4880,15.1],[4895,14.6],[4910,14.9],[4925,14.0],[4940,13.5],[4955,13.9],[4970,14.3],[4985,14.6],[5000,14.4],[5015,15.0],[5030,14.3],[5045,13.8],[5060,13.3],[5075,12.9],[5090,12.5],[5105,12.8],[5120,13.3],[5135,13.8],[5150,13.6],[5165,14.0],[5180,13.7],[5195,14.2],[5210,14.0],[5225,14.5],[5240,14.2],[5255,14.6],[5270,14.3],[5285,14.8],[5300,14.5],[5315,14.9],[5330,14.6],[5345,14.2],[5357,14.5],[5375,14.9],[5390,14.4],[5405,14.8],[5420,14.5],[5435,14.9],[5450,14.6],[5465,14.8],[5480,14.3],[5495,14.7],[5510,14.2],[5525,14.6],[5540,14.1],[5555,14.5],[5570,14.0],[5585,14.4],[5600,14.1],[5615,13.9],[5630,14.3],[5645,14.0],[5660,14.5],[5675,14.3],[5690,14.0],[5705,14.3],[5720,13.8],[5735,13.6],[5750,13.3],[5765,13.5],[5780,13.1],[5795,13.0],[5810,13.4],[5825,13.7],[5840,13.9],[5855,14.2],[5870,13.9],[5885,14.1],[5900,13.8],[5920,14.0],[5940,13.6],[5960,13.9],[5980,13.5],[6000,13.8],[6020,13.4],[6040,13.7],[6060,13.3],[6080,13.6],[6100,13.2],[6120,13.5],[6140,13.1],[6160,13.4],[6180,13.0],[6200,13.3],[6220,12.9],[6240,13.2],[6260,12.7],[6280,12.9],[6300,12.5],[6320,12.7],[6340,12.3],[6360,12.4],[6380,12.0],[6395,11.9],[6405,11.8],[6420,12.3],[6440,13.2],[6460,14.1],[6480,15.0],[6500,15.6],[6520,15.8],[6540,16.0],[6555,16.1],[6570,15.8],[6585,15.2],[6600,14.8],[6620,14.3],[6640,14.0],[6660,13.6],[6680,13.4],[6700,13.2],[6720,12.9],[6740,13.3],[6760,12.8],[6780,13.2],[6800,12.7],[6820,13.1],[6840,12.6],[6860,13.0],[6880,12.6],[6900,13.1],[6920,12.7],[6940,13.0],[6960,12.6],[6980,13.1],[7000,12.7],[7020,13.2],[7040,12.8],[7060,13.3],[7080,12.9],[7100,13.3],[7120,12.9],[7140,13.4],[7160,13.0],[7180,13.3],[7200,13.0],[7220,13.3],[7240,12.9],[7260,13.2],[7280,12.8],[7300,13.2],[7320,12.9],[7340,13.3],[7360,13.0],[7380,13.2],[7400,12.9],[7420,13.2],[7440,12.8],[7460,13.1],[7480,12.8],[7500,13.0],[7520,12.7],[7540,12.9],[7560,12.6],[7575,12.1],[7595,12.2],[7615,12.0],[7635,12.4],[7655,12.6],[7675,12.3],[7695,12.7],[7715,12.5],[7735,12.8],[7755,12.4],[7775,12.7],[7795,12.3],[7815,12.7],[7835,12.4],[7855,12.6],[7875,12.2],[7895,12.5],[7915,12.3],[7935,12.6],[7955,12.2],[7975,12.5],[7995,12.1],[8015,12.6],[8035,12.2],[8055,12.7],[8075,12.4],[8095,12.6],[8115,12.2],[8135,12.5],[8155,11.8],[8175,12.3],[8195,12.0],[8215,12.4],[8235,11.7],[8255,12.1],[8275,11.4],[8295,11.6],[8315,11.0],[8335,11.3],[8355,10.8],[8375,10.9],[8395,11.5],[8415,11.2],[8435,11.9],[8455,11.5],[8475,11.8],[8495,11.3],[8510,12.0],[8525,11.6],[8540,12.4],[8560,12.9],[8580,13.3],[8600,13.6],[8620,13.9],[8640,14.2],[8660,14.5],[8675,14.0],[8690,14.6],[8705,14.2],[8720,16.0],[8730,14.0],[8745,13.5],[8760,14.3],[8775,13.2],[8790,12.8],[8805,13.6],[8820,11.0],[8832,13.2],[8845,13.8],[8858,13.0],[8870,12.5],[8885,13.4],[8900,12.2],[8915,11.8],[8930,12.9],[8945,12.3],[8960,13.0],[8975,12.0],[8990,12.8],[9000,12.5]];

const photo2020jfo = [[3500,2.4],[3540,2.3],[3580,2.4],[3620,2.5],[3660,2.5],[3700,2.6],[3725,2.7],[3745,3.3],[3760,2.9],[3775,2.8],[3795,3.3],[3815,2.9],[3830,2.5],[3860,2.5],[3890,2.5],[3910,2.8],[3935,4.1],[3950,5.3],[3975,4.8],[4000,4.8],[4030,4.5],[4063,6.5],[4095,7.0],[4120,4.8],[4160,4.3],[4190,4.6],[4230,3.5],[4260,3.9],[4285,4.1],[4330,4.0],[4380,4.5],[4435,5.1],[4480,3.8],[4510,3.8],[4550,8.1],[4580,8.8],[4610,8.3],[4645,9.1],[4700,7.0],[4740,6.5],[4770,5.8],[4805,4.5],[4835,9.0],[4865,6.5],[4910,11.0],[4940,8.5],[4970,5.5],[5010,10.1],[5050,9.1],[5085,6.8],[5115,4.5],[5145,6.1],[5175,7.8],[5215,7.5],[5250,6.9],[5290,8.1],[5340,9.1],[5385,8.6],[5410,9.1],[5430,8.3],[5470,7.0],[5495,9.0],[5525,8.6],[5550,8.0],[5580,7.2],[5605,6.3],[5640,8.3],[5660,8.0],[5710,7.3],[5765,5.8],[5810,4.6],[5830,4.5],[5855,7.1],[5885,9.5],[5945,8.5],[6010,7.8],[6090,6.6],[6130,7.5],[6180,6.3],[6220,7.5],[6280,7.0],[6320,6.3],[6345,4.5],[6380,4.1],[6440,3.6],[6470,5.1],[6490,8.8],[6515,12.5],[6533,15.0],[6552,14.5],[6585,12.8],[6615,10.8],[6660,8.8],[6710,7.5],[6770,6.6],[6830,6.1],[6900,6.0],[7000,5.8],[7060,5.8],[7100,5.9],[7150,5.8],[7200,5.9],[7240,6.0],[7260,5.9],[7300,6.1],[7350,5.9],[7400,5.6],[7450,5.5],[7500,5.5],[7540,5.4],[7548,4.1],[7556,5.8],[7590,5.5],[7640,5.3],[7680,5.0],[7700,4.1],[7720,5.2],[7745,5.5],[7790,5.2],[7850,5.0],[7920,4.9],[8000,4.8],[8080,4.6],[8150,4.6],[8230,4.6],[8270,4.2],[8300,3.3],[8340,2.6],[8380,2.3],[8420,2.6],[8440,2.8],[8480,4.3],[8510,3.8],[8540,3.5],[8570,3.6],[8610,5.8],[8660,6.7],[8700,6.3],[8720,6.1],[8780,4.8],[8830,4.3],[8900,4.3],[8950,4.0],[9000,3.6]];

// ---------- Nebular spectra ----------
const neb2014cx = [[4470,36.4],[4490,36.5],[4510,36.9],[4530,37.1],[4550,37.2],[4575,37.1],[4600,37.3],[4625,37.4],[4650,37.3],[4680,37.2],[4710,36.9],[4740,36.6],[4770,36.4],[4805,36.3],[4830,36.7],[4850,37.4],[4860,37.8],[4875,37.3],[4895,36.9],[4915,37.2],[4932,37.4],[4955,37.1],[4975,36.8],[4995,37.2],[5010,37.9],[5030,37.5],[5060,37.3],[5090,37.0],[5115,36.7],[5135,36.6],[5160,36.8],[5190,37.0],[5230,37.0],[5280,37.1],[5320,37.0],[5360,37.1],[5400,37.2],[5440,37.1],[5480,37.3],[5535,37.5],[5580,37.3],[5620,37.2],[5660,37.1],[5700,36.9],[5740,36.7],[5770,36.3],[5790,36.1],[5810,36.2],[5840,36.6],[5865,37.3],[5885,37.6],[5910,37.4],[5950,37.3],[6000,37.2],[6050,37.1],[6100,37.1],[6150,37.0],[6200,37.1],[6250,37.2],[6290,37.5],[6310,37.1],[6340,37.2],[6364,37.3],[6390,37.0],[6415,36.6],[6440,36.3],[6460,36.7],[6480,37.6],[6500,39.0],[6515,40.9],[6530,43.0],[6545,44.8],[6555,45.4],[6565,44.6],[6580,43.2],[6600,41.6],[6620,40.4],[6640,39.4],[6660,38.7],[6690,38.0],[6720,37.6],[6760,37.2],[6800,36.9],[6850,36.8],[6900,36.8],[6950,36.9],[7000,36.9],[7050,37.0],[7100,36.9],[7150,36.9],[7200,37.0],[7240,37.0],[7270,37.3],[7290,37.6],[7310,37.4],[7340,37.1],[7380,37.0],[7420,37.1],[7460,37.1],[7500,37.1],[7540,37.0],[7580,37.1],[7620,37.1],[7660,37.0],[7700,37.1],[7720,37.0],[7740,36.9],[7760,37.2],[7780,37.0],[7800,36.9],[7850,36.9],[7900,36.9],[7950,36.9],[8000,36.9],[8050,36.9],[8100,36.8],[8150,36.8],[8200,36.9],[8250,36.8],[8300,36.7],[8350,36.8],[8380,36.5],[8400,36.3],[8420,36.3],[8440,36.6],[8460,37.2],[8480,38.0],[8500,38.6],[8515,38.7],[8535,38.2],[8555,37.4],[8580,37.0],[8600,37.4],[8620,38.1],[8640,38.7],[8660,39.1],[8680,38.9],[8700,38.6],[8730,38.3],[8760,37.9],[8790,37.6],[8810,37.3],[8830,37.0],[8850,36.9],[8870,36.8],[8900,36.9],[8950,36.9],[9000,37.0]];

const neb2015an = [[4765,26.6],[4775,24.9],[4790,24.3],[4805,26.6],[4820,25.4],[4835,26.2],[4850,27.3],[4860,28.1],[4872,25.6],[4885,26.0],[4900,27.0],[4915,25.2],[4930,26.5],[4945,25.1],[4960,26.8],[4975,25.8],[4990,27.3],[5005,26.2],[5020,26.8],[5035,25.6],[5050,26.3],[5065,24.6],[5080,26.0],[5095,26.8],[5110,25.9],[5125,26.5],[5140,27.0],[5155,26.1],[5170,26.6],[5185,25.6],[5200,26.2],[5215,25.7],[5230,26.6],[5245,26.0],[5260,26.8],[5275,25.9],[5290,26.4],[5305,25.5],[5320,26.2],[5335,25.8],[5350,26.5],[5365,25.7],[5380,26.2],[5395,25.8],[5410,26.4],[5425,25.6],[5440,26.3],[5455,25.9],[5470,26.6],[5485,25.8],[5500,26.4],[5515,26.0],[5528,29.6],[5533,24.3],[5545,26.1],[5560,25.7],[5575,26.3],[5590,25.9],[5605,26.2],[5620,25.6],[5635,26.0],[5650,25.5],[5665,26.1],[5680,25.4],[5695,25.9],[5710,25.3],[5725,25.8],[5740,25.2],[5755,25.6],[5770,25.1],[5785,25.5],[5800,24.9],[5815,24.8],[5830,25.3],[5845,25.9],[5860,26.4],[5875,26.9],[5890,27.1],[5905,26.2],[5920,26.6],[5935,25.9],[5950,26.3],[5965,25.8],[5980,26.4],[5995,26.0],[6010,26.5],[6025,25.9],[6040,26.2],[6055,25.8],[6070,26.3],[6085,25.9],[6100,26.4],[6115,25.8],[6130,26.2],[6145,25.9],[6160,26.5],[6175,26.0],[6190,26.4],[6205,25.9],[6220,26.5],[6235,26.1],[6250,26.6],[6265,26.0],[6280,26.9],[6290,27.1],[6300,26.2],[6315,26.5],[6330,26.0],[6345,26.3],[6364,26.2],[6380,26.0],[6395,25.9],[6410,26.0],[6425,25.6],[6440,25.4],[6455,25.1],[6470,26.2],[6485,27.9],[6500,30.5],[6515,33.6],[6530,36.0],[6545,37.9],[6555,39.4],[6563,39.6],[6572,38.5],[6582,37.6],[6595,35.8],[6610,33.9],[6625,31.5],[6640,29.3],[6660,27.5],[6680,26.9],[6700,26.2],[6720,25.9],[6740,26.2],[6760,25.6],[6780,26.0],[6800,25.4],[6820,25.9],[6840,25.6],[6860,25.8],[6880,25.3],[6900,25.7],[6920,25.2],[6940,25.6],[6960,25.3],[6980,25.8],[7000,25.4],[7020,25.9],[7040,25.6],[7060,26.1],[7080,25.8],[7100,26.3],[7120,25.9],[7140,26.4],[7160,26.0],[7180,26.5],[7200,26.1],[7220,26.6],[7240,26.3],[7260,26.8],[7275,27.4],[7290,27.8],[7305,27.0],[7320,28.3],[7335,26.8],[7350,27.3],[7365,26.6],[7380,26.9],[7395,26.4],[7410,26.8],[7425,26.2],[7440,26.5],[7455,26.0],[7470,26.4],[7485,25.9],[7500,26.2],[7515,25.6],[7530,25.9],[7545,25.3],[7560,24.9],[7575,25.2],[7590,24.8],[7605,25.4],[7620,25.1],[7635,25.6],[7650,25.3],[7665,25.9],[7680,25.5],[7695,26.1],[7710,25.7],[7725,26.3],[7740,25.8],[7755,26.2],[7770,25.6],[7785,26.0],[7800,25.5],[7815,26.1],[7830,25.6],[7845,26.0],[7860,25.4],[7875,25.9],[7890,25.5],[7905,25.8],[7920,25.3],[7935,25.7],[7950,25.2],[7965,25.6],[7980,25.1],[7995,25.7],[8010,25.3],[8025,25.8],[8040,25.4],[8055,25.9],[8070,25.2],[8085,25.6],[8100,25.1],[8115,25.5],[8130,25.0],[8145,25.4],[8160,25.1],[8175,25.7],[8190,25.3],[8205,25.8],[8220,25.4],[8235,26.0],[8250,25.3],[8265,25.7],[8280,25.0],[8295,25.5],[8310,24.9],[8325,25.4],[8340,25.1],[8355,25.9],[8370,25.4],[8385,26.1],[8400,25.6],[8415,26.3],[8430,25.8],[8445,26.4],[8460,27.2],[8475,27.8],[8490,28.1],[8505,28.7],[8520,29.2],[8535,29.7],[8550,28.8],[8565,28.1],[8580,26.6],[8595,25.9],[8610,26.8],[8625,27.6],[8640,28.4],[8655,29.6],[8670,27.4],[8685,26.8],[8700,26.6],[8715,27.2],[8730,26.3],[8745,26.9],[8760,28.9],[8772,25.6],[8790,26.6],[8805,26.0],[8820,25.3],[8830,24.8],[8845,25.4],[8860,25.6],[8875,25.1],[8890,24.6],[8905,25.3],[8920,25.8],[8935,25.2],[8950,25.9],[8965,25.4],[8980,26.2],[8990,26.9],[9000,26.5]];

const neb2015ba = [[4880,18.8],[4905,19.3],[4925,19.2],[4945,19.1],[4970,19.3],[4990,19.6],[5010,19.9],[5025,19.3],[5040,18.9],[5070,18.7],[5100,18.6],[5130,18.7],[5160,18.8],[5180,19.2],[5195,18.8],[5230,18.9],[5280,18.9],[5330,18.8],[5357,18.8],[5400,18.9],[5450,19.0],[5500,19.0],[5530,19.2],[5560,18.9],[5600,18.8],[5640,18.7],[5680,18.8],[5720,18.7],[5760,18.6],[5800,18.5],[5820,18.3],[5850,18.6],[5870,19.0],[5890,19.4],[5910,19.1],[5940,18.9],[5980,18.7],[6030,18.6],[6080,18.6],[6120,18.7],[6170,18.9],[6220,19.0],[6260,18.9],[6290,18.9],[6320,19.0],[6350,18.8],[6380,18.7],[6420,18.6],[6450,18.6],[6470,18.8],[6490,19.6],[6505,21.5],[6520,25.3],[6535,28.5],[6548,30.5],[6558,32.3],[6566,31.8],[6578,29.3],[6590,26.0],[6605,22.6],[6620,20.5],[6635,19.4],[6650,19.3],[6670,19.3],[6690,19.3],[6705,19.5],[6720,19.9],[6735,19.2],[6750,18.8],[6770,18.5],[6800,18.3],[6850,18.4],[6900,18.6],[6950,18.6],[7000,18.6],[7050,18.6],[7100,18.7],[7130,18.8],[7155,18.8],[7180,18.4],[7210,18.5],[7240,19.2],[7260,20.6],[7280,22.5],[7295,23.3],[7310,22.6],[7330,21.0],[7345,19.9],[7370,19.3],[7400,19.1],[7430,18.9],[7470,18.7],[7510,18.5],[7550,18.4],[7590,18.3],[7630,18.4],[7670,18.7],[7700,19.0],[7730,18.7],[7760,18.5],[7800,18.6],[7850,18.8],[7900,18.9],[7950,18.7],[8000,18.6],[8050,18.5],[8100,18.7],[8150,18.7],[8200,18.8],[8250,18.6],[8300,18.7],[8350,18.6],[8400,18.4],[8420,18.3],[8440,18.6],[8460,19.3],[8480,19.8],[8500,19.9],[8520,20.0],[8540,20.1],[8555,19.3],[8570,18.6],[8590,18.9],[8620,19.4],[8640,19.8],[8655,20.1],[8670,19.7],[8690,19.4],[8710,19.2],[8740,18.8],[8770,18.7],[8800,18.6],[8830,18.4],[8860,18.3]];

const neb2016B = [[3680,11.6],[3688,10.1],[3695,13.0],[3700,14.6],[3710,14.0],[3718,18.8],[3724,15.0],[3732,13.3],[3740,14.3],[3750,12.2],[3758,11.6],[3768,13.5],[3778,12.9],[3788,14.2],[3796,13.8],[3806,12.1],[3815,12.8],[3824,13.9],[3833,12.4],[3842,11.9],[3852,13.2],[3861,13.9],[3870,12.6],[3880,11.1],[3890,13.0],[3899,12.3],[3908,13.6],[3918,12.1],[3927,13.4],[3936,12.6],[3946,13.8],[3955,12.9],[3964,12.4],[3974,13.3],[3983,12.2],[3992,13.0],[4002,12.5],[4012,13.6],[4022,12.3],[4035,14.8],[4045,12.6],[4055,12.3],[4065,13.4],[4075,12.8],[4085,13.2],[4095,12.4],[4105,12.6],[4115,13.1],[4125,12.5],[4135,12.9],[4145,12.8],[4160,12.4],[4175,13.0],[4190,12.6],[4205,12.2],[4220,12.9],[4235,12.5],[4250,11.9],[4265,12.7],[4280,12.3],[4295,11.8],[4310,11.1],[4322,13.3],[4335,12.4],[4350,12.8],[4365,12.3],[4380,12.9],[4395,12.5],[4410,13.0],[4425,12.6],[4440,13.4],[4455,12.8],[4470,13.3],[4485,12.7],[4500,13.2],[4515,12.8],[4530,13.9],[4545,13.2],[4560,13.5],[4575,13.1],[4590,12.9],[4605,13.2],[4620,12.7],[4635,12.4],[4650,12.6],[4665,12.2],[4680,12.0],[4695,11.9],[4710,12.3],[4725,12.0],[4740,11.8],[4755,11.5],[4770,11.7],[4785,11.4],[4805,11.3],[4825,12.2],[4845,13.0],[4860,13.8],[4875,13.1],[4890,13.3],[4905,12.9],[4920,13.1],[4935,12.6],[4950,12.8],[4965,12.4],[4980,12.6],[4995,13.0],[5010,13.4],[5025,12.9],[5040,12.7],[5055,12.5],[5075,12.3],[5095,12.1],[5115,11.8],[5135,12.0],[5155,12.3],[5175,12.1],[5195,12.4],[5215,12.2],[5235,12.5],[5255,12.3],[5275,12.6],[5295,12.4],[5315,12.8],[5335,12.6],[5357,12.8],[5380,13.1],[5405,13.3],[5430,13.0],[5460,13.2],[5490,13.1],[5520,13.3],[5550,13.0],[5580,13.1],[5610,12.9],[5640,12.8],[5670,12.8],[5700,12.7],[5730,12.6],[5760,12.4],[5780,12.0],[5800,11.4],[5815,11.8],[5835,12.3],[5855,12.8],[5875,13.3],[5890,13.7],[5910,13.2],[5930,12.9],[5960,12.8],[5990,12.6],[6020,12.8],[6050,12.6],[6080,12.9],[6110,12.7],[6140,12.9],[6170,12.7],[6200,12.9],[6230,13.0],[6260,13.2],[6285,13.4],[6310,13.3],[6340,13.4],[6364,13.3],[6385,13.0],[6405,12.6],[6425,12.2],[6445,11.9],[6460,11.8],[6475,12.4],[6490,13.3],[6505,15.2],[6520,17.6],[6535,19.8],[6550,21.2],[6560,21.6],[6570,21.0],[6582,19.9],[6595,18.0],[6610,15.9],[6625,14.5],[6640,13.8],[6660,13.2],[6690,12.8],[6720,12.6],[6760,12.4],[6800,12.4],[6850,12.3],[6900,12.3],[6950,12.4],[7000,12.4],[7050,12.4],[7100,12.4],[7140,12.4],[7170,12.5],[7200,12.8],[7230,13.2],[7260,13.8],[7280,14.3],[7295,14.3],[7315,13.9],[7340,13.4],[7370,13.0],[7400,12.8],[7440,12.6],[7480,12.3],[7520,12.0],[7545,11.8],[7570,11.8],[7600,12.0],[7630,12.2],[7660,12.6],[7690,12.8],[7710,13.1],[7730,13.0],[7760,12.8],[7790,12.9],[7820,12.7],[7850,12.8],[7880,12.6],[7910,12.5],[7940,12.5],[7970,12.4],[8000,12.3],[8020,12.1],[8040,11.8],[8070,12.1],[8100,12.3],[8130,12.5],[8160,12.4],[8190,12.6],[8220,12.5],[8250,12.2],[8280,12.0],[8310,11.8],[8340,11.7],[8370,11.6],[8400,11.8],[8420,12.1],[8440,12.8],[8460,13.8],[8480,14.6],[8500,14.9],[8520,14.6],[8540,14.1],[8560,13.4],[8575,12.9],[8590,12.8],[8610,13.5],[8630,14.4],[8655,15.8],[8670,15.4],[8690,15.0],[8710,14.6],[8730,14.9],[8745,14.0],[8760,14.7],[8775,13.7],[8790,14.5],[8805,13.4],[8820,13.0],[8835,13.6],[8850,12.2],[8865,12.9],[8880,12.4],[8895,13.0],[8910,12.0],[8925,12.6],[8940,12.1],[8955,12.4],[8962,12.0]];

const neb2020jfo = [[3600,9.9],[3605,3.0],[3612,8.5],[3620,2.7],[3628,7.8],[3636,4.5],[3644,6.0],[3652,2.8],[3660,7.1],[3668,3.4],[3676,8.2],[3684,5.0],[3692,6.8],[3700,3.2],[3708,9.4],[3716,4.1],[3724,7.6],[3732,3.0],[3740,9.6],[3748,5.2],[3756,8.0],[3764,3.3],[3772,6.9],[3780,4.2],[3788,9.0],[3796,5.6],[3804,7.4],[3812,3.8],[3820,8.8],[3828,4.6],[3836,6.2],[3844,2.9],[3852,7.9],[3860,4.8],[3868,8.5],[3876,5.3],[3884,6.9],[3892,3.9],[3900,8.1],[3908,5.5],[3916,7.3],[3924,4.4],[3932,8.6],[3940,5.1],[3948,7.0],[3956,3.6],[3964,6.5],[3972,4.7],[3980,8.3],[3988,5.9],[3996,7.5],[4004,4.3],[4012,6.1],[4020,3.8],[4028,7.4],[4036,5.0],[4044,8.0],[4052,5.7],[4060,6.6],[4068,4.2],[4076,7.9],[4084,5.4],[4092,6.8],[4100,4.9],[4108,8.4],[4116,6.0],[4124,7.2],[4132,4.6],[4140,6.4],[4148,3.9],[4156,7.1],[4164,5.2],[4172,8.7],[4180,6.1],[4188,7.8],[4196,5.0],[4204,6.3],[4212,4.5],[4220,7.6],[4228,5.6],[4236,8.9],[4244,6.2],[4252,7.4],[4260,4.7],[4268,6.8],[4276,3.8],[4284,7.2],[4292,5.3],[4300,8.6],[4308,6.0],[4316,7.7],[4324,4.9],[4332,9.4],[4340,6.2],[4348,8.0],[4356,5.1],[4364,6.7],[4372,3.5],[4380,7.0],[4388,5.4],[4396,8.2],[4404,6.3],[4412,7.5],[4420,4.6],[4428,6.9],[4436,5.2],[4444,7.3],[4452,4.0],[4460,6.6],[4468,5.0],[4476,8.0],[4484,5.9],[4492,7.0],[4500,4.8],[4508,6.4],[4516,4.1],[4524,7.8],[4532,5.5],[4540,7.1],[4548,4.4],[4556,6.7],[4564,5.3],[4572,8.3],[4580,6.2],[4588,7.0],[4596,5.1],[4604,6.5],[4612,4.3],[4620,7.4],[4628,5.8],[4636,9.0],[4644,6.1],[4652,7.6],[4660,5.0],[4668,8.6],[4676,6.4],[4684,10.3],[4690,6.8],[4698,8.0],[4706,4.9],[4714,7.3],[4722,4.2],[4730,6.6],[4738,5.5],[4746,8.3],[4754,5.9],[4762,7.1],[4770,4.6],[4778,6.2],[4786,5.2],[4794,7.5],[4802,5.6],[4810,6.8],[4818,4.5],[4826,6.3],[4834,5.3],[4842,7.7],[4850,6.1],[4858,7.0],[4866,5.4],[4874,6.8],[4882,4.8],[4890,6.4],[4898,5.6],[4906,7.2],[4914,5.7],[4922,6.7],[4930,4.9],[4938,6.5],[4946,5.5],[4954,7.6],[4962,6.0],[4970,7.3],[4978,5.1],[4986,6.2],[4994,4.6],[5002,7.0],[5010,5.8],[5018,8.3],[5026,6.2],[5034,7.1],[5042,5.3],[5050,6.6],[5058,4.7],[5066,6.9],[5074,5.6],[5082,7.8],[5090,6.0],[5098,7.2],[5106,5.2],[5114,6.4],[5122,4.9],[5130,7.0],[5138,5.4],[5146,6.8],[5154,5.9],[5162,7.4],[5170,5.6],[5178,6.7],[5186,4.8],[5194,6.1],[5202,5.3],[5210,7.2],[5218,5.9],[5226,6.9],[5234,5.0],[5242,6.6],[5250,5.5],[5258,7.3],[5266,5.8],[5274,6.5],[5282,4.9],[5290,6.0],[5298,5.2],[5306,6.9],[5314,5.6],[5322,7.5],[5330,5.9],[5338,6.6],[5346,4.7],[5354,6.3],[5362,5.1],[5370,6.8],[5378,4.5],[5386,7.4],[5394,5.5],[5402,6.2],[5410,4.8],[5418,6.7],[5426,5.4],[5434,7.2],[5442,4.1],[5450,6.5],[5458,5.0],[5466,7.0],[5474,5.3],[5482,6.1],[5490,4.6],[5498,6.9],[5506,5.2],[5514,7.6],[5522,5.4],[5530,6.4],[5538,4.9],[5546,6.3],[5554,5.6],[5562,9.4],[5570,5.8],[5578,6.6],[5586,4.5],[5594,6.2],[5602,5.1],[5610,6.8],[5618,4.6],[5626,6.0],[5634,4.2],[5642,6.5],[5650,5.0],[5658,6.3],[5666,4.4],[5674,5.9],[5682,4.8],[5690,6.4],[5700,5.2],[5715,6.0],[5730,4.9],[5745,5.8],[5760,4.6],[5775,5.7],[5790,4.8],[5805,6.1],[5820,5.0],[5835,6.6],[5850,7.3],[5865,8.1],[5880,8.6],[5892,7.8],[5905,6.2],[5920,5.0],[5935,6.1],[5950,4.8],[5965,5.9],[5980,4.5],[5995,5.7],[6010,4.6],[6025,6.0],[6040,4.7],[6055,5.8],[6070,4.3],[6085,6.2],[6100,5.0],[6115,5.6],[6130,4.4],[6145,6.1],[6160,5.1],[6175,5.9],[6190,4.9],[6205,6.3],[6220,5.2],[6235,6.0],[6250,6.8],[6265,7.6],[6280,8.3],[6292,8.0],[6305,7.2],[6320,6.9],[6335,6.0],[6350,6.5],[6364,5.8],[6380,5.6],[6395,5.3],[6410,5.1],[6425,4.9],[6440,4.6],[6455,4.3],[6470,4.8],[6485,5.3],[6500,6.2],[6515,7.1],[6530,8.0],[6545,9.5],[6555,11.8],[6562,11.2],[6570,8.9],[6580,8.1],[6595,6.6],[6610,5.3],[6625,5.9],[6640,5.5],[6655,5.9],[6670,5.4],[6685,5.7],[6700,5.1],[6715,5.6],[6730,5.0],[6745,5.5],[6760,4.9],[6775,5.4],[6790,4.7],[6805,5.3],[6820,4.6],[6835,5.2],[6850,4.5],[6865,5.0],[6880,4.6],[6895,5.1],[6910,4.4],[6925,4.9],[6940,4.6],[6955,5.2],[6970,4.8],[6985,5.3],[7000,4.9],[7015,5.1],[7030,4.7],[7045,5.2],[7060,5.3],[7075,5.8],[7090,6.3],[7110,6.9],[7125,7.4],[7135,7.1],[7150,6.4],[7165,5.6],[7180,5.2],[7195,5.0],[7210,4.9],[7225,5.1],[7240,4.8],[7255,4.9],[7265,7.8],[7275,10.6],[7290,10.4],[7300,9.1],[7310,10.4],[7320,10.9],[7330,8.3],[7340,8.8],[7355,9.1],[7370,8.6],[7385,8.0],[7400,7.4],[7415,6.9],[7440,6.0],[7475,5.6],[7500,5.2],[7515,4.7],[7530,5.3],[7545,4.9],[7560,5.5],[7575,4.6],[7590,5.2],[7605,4.7],[7620,5.4],[7635,4.9],[7650,5.3],[7665,4.6],[7680,5.1],[7695,4.8],[7710,5.4],[7725,4.9],[7740,5.6],[7755,4.8],[7770,5.2],[7785,4.6],[7800,5.3],[7815,4.8],[7830,5.5],[7845,4.9],[7860,5.1],[7875,4.5],[7890,5.2],[7905,4.7],[7920,5.3],[7935,4.9],[7950,5.4],[7965,4.6],[7980,5.0],[7995,4.5],[8010,5.2],[8025,4.7],[8040,5.3],[8055,4.8],[8070,5.0],[8085,4.4],[8100,5.1],[8115,4.6],[8130,5.2],[8145,4.7],[8160,5.0],[8175,4.5],[8190,5.3],[8205,4.7],[8220,5.1],[8235,4.6],[8250,5.0],[8265,4.3],[8280,4.8],[8295,3.4],[8310,4.9],[8325,4.5],[8340,5.2],[8355,4.6],[8370,5.3],[8385,4.8],[8400,5.1],[8415,4.6],[8430,5.4],[8445,4.9],[8460,5.5],[8475,5.1],[8490,5.6],[8505,5.2],[8520,5.8],[8535,5.3],[8550,5.9],[8565,5.4],[8580,5.7],[8595,5.0],[8610,5.5],[8625,5.2],[8640,5.8],[8655,5.4],[8670,5.9],[8685,5.2],[8700,5.6],[8715,5.0],[8730,5.7],[8745,6.3],[8760,5.1],[8775,5.6],[8790,4.9],[8805,5.5],[8820,4.8],[8835,5.4],[8850,5.0],[8865,5.5],[8880,4.7],[8895,5.2],[8910,4.6],[8925,5.0],[8940,4.2],[8955,5.1],[8970,4.7],[8985,5.0],[9000,4.9]];

// ---------- line identifications (rest wavelengths, Å) ----------
const earlyLineWaves = [3727, 3934, 4102, 4861, 5018, 5169, 5669, 5890, 6563, 8498, 8542, 8662];
const earlyLineTops  = [40.7, 38.5, 36.6, 33.7, 30.9, 30.9, 29.0, 29.0, 28.7, 29.0, 29.0, 29.0];
const photoLineWaves = [3727, 3934, 4102, 4861, 5018, 5169, 5669, 5890, 6563, 8498, 8542, 8662];
const photoLineTops  = [null, null, null, null, null, null, null, 42.5, null, null, null, null];
const nebLineWaves   = [5669, 5890, 6300, 6364, 6563, 7155, 7291, 8498, 8542, 8662];
const nebLineTops    = [null, null, 39.0, 38.1, null, 39.0, 39.0, null, null, null];

const telluric = [7550, 7630];
const ledge = [4500, 4800];

const tab = { blue: '#1f77b4', orange: '#ff7f0e', green: '#2ca02c', red: '#d62728', purple: '#9467bd', brown: '#8c564b' };
const FONT = '"DejaVu Sans"';

// minor ticks every 200 Å between the labelled ones
const minorTicks = [];
for (let w = 3600; w < waveMax; w += 200) if (w % 1000 !== 0) minorTicks.push(w);

function series(pairs, color, idx) {
  return {
    data: pairs.map(p => ({ x: p[0], y: p[1] })),
    borderColor: color, borderWidth: 2, pointRadius: 0, fill: false, tension: 0,
    order: -idx
  };
}

const decor = {
  id: 'decor',
  beforeDatasetsDraw(chart, _args, o) {
    const { ctx, chartArea: a, scales: { x, y } } = chart;
    ctx.save();
    for (const b of o.bands || []) {
      const x0 = x.getPixelForValue(b.from), x1 = x.getPixelForValue(b.to);
      const yt = b.top == null ? a.top : y.getPixelForValue(b.top);
      ctx.fillStyle = b.color;
      ctx.fillRect(x0, yt, x1 - x0, a.bottom - yt);
    }
    ctx.restore();
  },
  afterDatasetsDraw(chart, _args, o) {
    const { ctx, chartArea: a, scales: { x, y } } = chart;
    ctx.save();
    // dashed identification lines
    ctx.strokeStyle = '#000'; ctx.lineWidth = 1.5; ctx.setLineDash([5.5, 3]);
    (o.lineWaves || []).forEach((w, i) => {
      const px = x.getPixelForValue(w);
      const t = o.lineTops[i];
      const yt = t == null ? a.top : y.getPixelForValue(t);
      ctx.beginPath(); ctx.moveTo(px, yt); ctx.lineTo(px, a.bottom); ctx.stroke();
    });
    ctx.setLineDash([]);
    // text annotations
    for (const t of o.texts || []) {
      ctx.font = t.font; ctx.fillStyle = t.color || '#000';
      const px = x.getPixelForValue(t.w), py = y.getPixelForValue(t.v);
      if (t.rotate) {
        ctx.save(); ctx.translate(px, py); ctx.rotate(-Math.PI / 2);
        ctx.textAlign = 'left'; ctx.textBaseline = 'middle';
        ctx.fillText(t.text, 0, 0); ctx.restore();
      } else {
        ctx.textAlign = t.align || 'center'; ctx.textBaseline = 'alphabetic';
        ctx.fillText(t.text, px, py);
      }
    }
    // frame and minor ticks
    ctx.strokeStyle = '#000'; ctx.lineWidth = 1;
    ctx.strokeRect(a.left + 0.5, a.top + 0.5, a.right - a.left - 1, a.bottom - a.top);
    for (const w of minorTicks) {
      const px = Math.round(x.getPixelForValue(w)) + 0.5;
      ctx.beginPath(); ctx.moveTo(px, a.bottom); ctx.lineTo(px, a.bottom + 3.5); ctx.stroke();
    }
    ctx.restore();
  }
};

function makePanel(id, sets, decorOpts, pad, axisHeight, showLabels) {
  const xAxis = {
    type: 'linear', min: waveMin, max: waveMax,
    afterBuildTicks: s => { s.ticks = majorTicks.map(v => ({ value: v })); },
    afterFit: s => { s.height = axisHeight; },
    grid: { drawOnChartArea: false, drawTicks: true, tickLength: 6, color: '#000', tickColor: '#000', tickWidth: 1 },
    border: { display: true, color: '#000', width: 1 },
    ticks: { display: showLabels, color: '#000', font: { family: 'DejaVu Sans', size: 16.5 }, padding: 3, maxRotation: 0,
             callback: v => String(v) },
    title: { display: showLabels, text: 'Rest Wavelength (Å)', color: '#000',
             font: { family: 'DejaVu Sans', size: 21.5 }, padding: { top: 0, bottom: 1 } }
  };
  return new Chart(document.getElementById(id), {
    type: 'line',
    data: { datasets: sets },
    options: {
      responsive: false, animation: false, events: [], devicePixelRatio: 1,
      layout: { padding: { left: 48, right: 28, top: pad, bottom: 0 } },
      scales: { x: xAxis, y: { display: false, min: 0, max: fluxMax } },
      plugins: { legend: { display: false }, tooltip: { enabled: false }, decor: decorOpts }
    },
    plugins: [decor]
  });
}

const lab = `17px ${FONT}`;
const labIt = `italic 17px ${FONT}`;
const sn = `bold 17.5px ${FONT}`;
const head = `bold 26.5px ${FONT}`;

makePanel('early', [
  series(early2013fs, tab.blue, 0),
  series(early2018lab, tab.orange, 1),
  series(early2021yja, tab.green, 2),
  series(early2023ixf, tab.red, 3),
  series(early2024ggi, tab.purple, 4)
], {
  bands: [
    { from: ledge[0], to: ledge[1], top: 34.7, color: 'rgba(191,0,191,0.11)' },
    { from: telluric[0], to: telluric[1], top: 24.9, color: '#bfbfbf' }
  ],
  lineWaves: earlyLineWaves, lineTops: earlyLineTops,
  texts: [
    { text: 'Early', w: 3597, v: 45.25, font: head, align: 'left' },
    { text: 'O II', w: 3774, v: 41.2, font: lab },
    { text: 'Ca II', w: 3978, v: 39.0, font: lab },
    { text: 'Hδ', w: 4115, v: 37.4, font: labIt },
    { text: 'ledge', w: 4637, v: 35.4, font: lab, color: '#bf00bf' },
    { text: 'Hβ', w: 4892, v: 34.8, font: labIt },
    { text: 'Fe II', w: 5077, v: 31.3, font: lab },
    { text: 'Si', w: 5663, v: 31.3, font: lab },
    { text: 'He II', w: 5958, v: 31.3, font: lab },
    { text: 'Hα', w: 6576, v: 31.0, font: labIt },
    { text: 'Ca II', w: 8573, v: 31.3, font: lab },
    { text: '⊕', w: 7586, v: 26.0, font: lab },
    { text: '2013fs, 1.1 d', w: 7643, v: 25.2, font: sn, align: 'left' },
    { text: '2018lab, 1.9 d', w: 7643, v: 20.2, font: sn, align: 'left' },
    { text: '2021yja, 2.2 d', w: 7643, v: 12.7, font: sn, align: 'left' },
    { text: '2023ixf, 1.2 d', w: 7643, v: 7.9, font: sn, align: 'left' },
    { text: '2024ggi, 1.2 d', w: 7643, v: 3.6, font: sn, align: 'left' }
  ]
}, 8, 15, false);

makePanel('photo', [
  series(photo2014cx, tab.blue, 0),
  series(photo2014cy, tab.orange, 1),
  series(photo2015an, tab.green, 2),
  series(photo2015ba, tab.red, 3),
  series(photo2015cz, tab.purple, 4),
  series(photo2020jfo, tab.brown, 5)
], {
  bands: [{ from: telluric[0], to: telluric[1], top: null, color: '#bfbfbf' }],
  lineWaves: photoLineWaves, lineTops: photoLineTops,
  texts: [
    { text: 'Photospheric', w: 3597, v: 44.1, font: head, align: 'left' },
    { text: 'Na ID', w: 5987, v: 43.1, font: lab },
    { text: '2014cx, 50.5 d', w: 7548, v: 40.1, font: sn, align: 'left' },
    { text: '2014cy, 57.5 d', w: 7548, v: 33.9, font: sn, align: 'left' },
    { text: '2015an, 52.0 d', w: 7548, v: 27.4, font: sn, align: 'left' },
    { text: '2015ba, 45.5 d', w: 7548, v: 21.5, font: sn, align: 'left' },
    { text: '2015cz, 43.9 d', w: 7497, v: 14.0, font: sn, align: 'left' },
    { text: '2020jfo, 52.9 d', w: 7548, v: 6.4, font: sn, align: 'left' }
  ]
}, 1, 12, false);

makePanel('neb', [
  series(neb2014cx, tab.blue, 0),
  series(neb2015an, tab.orange, 1),
  series(neb2015ba, tab.green, 2),
  series(neb2016B, tab.red, 3),
  series(neb2020jfo, tab.purple, 4)
], {
  bands: [{ from: telluric[0], to: telluric[1], top: null, color: '#bfbfbf' }],
  lineWaves: nebLineWaves, lineTops: nebLineTops,
  texts: [
    { text: 'Nebular', w: 3597, v: 43.1, font: head, align: 'left' },
    { text: '[O I]', w: 6348, v: 39.8, font: lab, rotate: true },
    { text: '[Fe II]', w: 7146, v: 39.8, font: lab, rotate: true },
    { text: '[Ca II]', w: 7293, v: 39.8, font: lab, rotate: true },
    { text: '2014cx, 132.9 d', w: 7548, v: 38.7, font: sn, align: 'left' },
    { text: '2015an, 158.4 d', w: 7548, v: 30.3, font: sn, align: 'left' },
    { text: '2015ba, 272.0 d', w: 7548, v: 21.8, font: sn, align: 'left' },
    { text: '2016B, 177.1 d', w: 7548, v: 15.0, font: sn, align: 'left' },
    { text: '2020jfo, 365.2 d', w: 7548, v: 6.4, font: sn, align: 'left' }
  ]
}, 5, 64, true);
</script>
</body>
</html>
